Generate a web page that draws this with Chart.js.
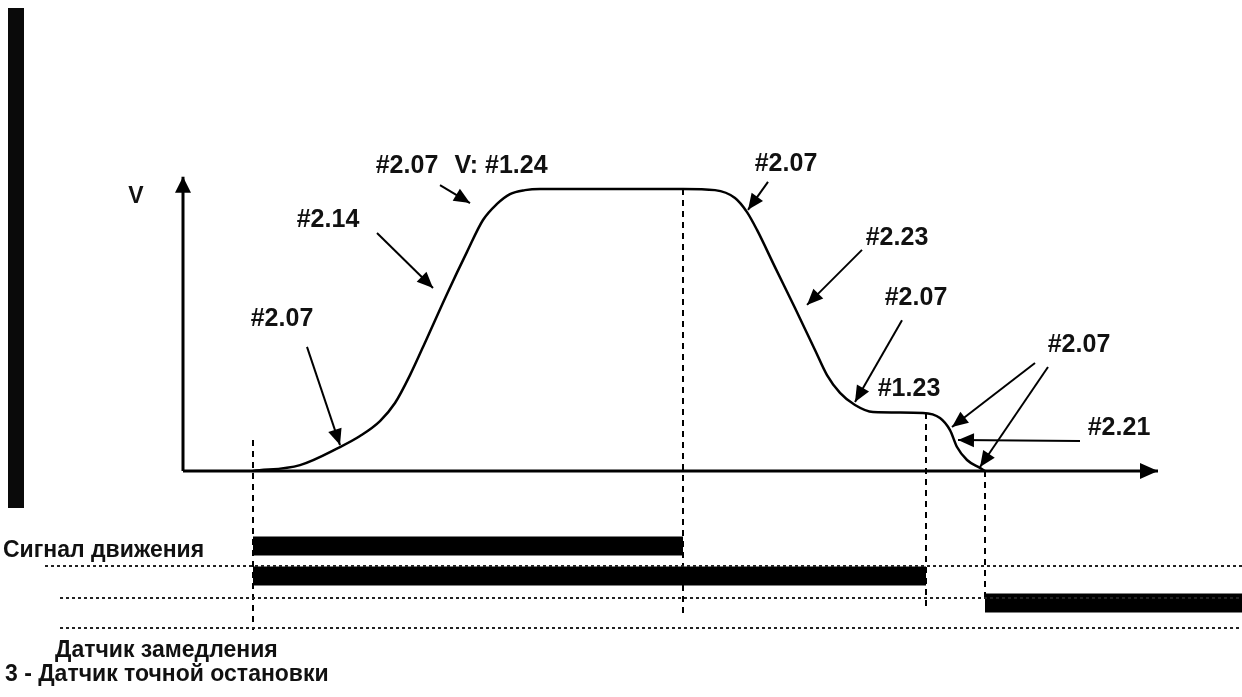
<!DOCTYPE html>
<html lang="ru">
<head>
<meta charset="utf-8">
<title>Диаграмма скорости</title>
<script src="https://cdn.jsdelivr.net/npm/chart.js@4.4.1/dist/chart.umd.min.js"></script>
<style>
  html, body { margin:0; padding:0; background:#fff; }
  #wrap { position:relative; width:1242px; height:697px; overflow:hidden; }
  #scanEdge { position:absolute; left:8px; top:8px; width:16px; height:500px; background:#0a0a0a; }
</style>
</head>
<body>
<div id="wrap">
  <canvas id="speedChart" width="1242" height="697"></canvas>
  <div id="scanEdge"></div>
</div>
<script>
// ============================================
//  Speed profile data (t = time units, v = % of #1.24)
// ============================================
const curveT = [7.0, 11.7, 15.7, 17.7, 19.7, 21.2, 22.7, 24.4, 26.4, 28.4, 30.0, 31.4, 32.7, 34.2, 35.7, 50.0,
                53.2, 55.2, 56.4, 57.4, 59.2, 61.2, 63.2, 64.4, 65.7, 67.2, 69.0, 74.0, 75.7, 76.7, 77.4, 78.4, 79.7, 80.2];
const curveV = [0, 2.1, 8.5, 12.4, 17.7, 24.1, 34.0, 47.1, 62.8, 77.7, 89.0, 94.7, 98.2, 99.6, 100, 100,
                99.6, 96.8, 91.8, 85.5, 72.3, 57.8, 42.9, 34.0, 27.7, 23.4, 20.9, 20.6, 18.8, 14.5, 8.5, 3.9, 1.1, 0];

// axis extents
const axisTopV = 104.3;
const axisEndT = 97.5;

// vertical dashed markers
const markerT    = [7.0, 50.0, 74.3, 80.2];
const markerFrom = [11, 100, 20.6, 0];
const markerTo   = [-56.4, -51.4, -49.6, -45.7];

// signal bars
const signalStart = [7.0, 7.0, 80.2];
const signalEnd   = [50.0, 74.3, 105.9];
const signalLevel = [-26.6, -37.2, -46.8];

// dotted guide lines
const guideLevel = [-33.7, -45.0, -55.7];
const guideStart = [-13.8, -12.3, -12.3];
const guideEnd   = 105.9;

// signal legend rows
const rowTexts = ['Сигнал движения', 'Датчик замедления', '3 - Датчик точной остановки'];
const rowT = [-18.0, -12.8, -17.8];
const rowV = [-30.5, -66.0, -74.5];

// parameter labels
const noteTexts = ['V', '#2.07', '#2.14', '#2.07', 'V: #1.24', '#2.07', '#2.23', '#2.07', '#1.23', '#2.07', '#2.21'];
const noteT = [-4.7, 9.9, 14.5, 22.4, 31.8, 60.3, 71.4, 73.3, 72.6, 89.6, 93.6];
const noteV = [97.2, 53.9, 89.0, 108.2, 108.2, 108.9, 82.6, 61.3, 29.1, 44.7, 15.2];

// pointer arrows (from -> tip)
const arrowT0 = [12.4, 19.4, 25.7, 58.5, 67.9, 71.9, 85.2, 86.5, 89.7];
const arrowV0 = [44.0, 84.4, 101.4, 102.5, 78.4, 53.5, 38.3, 36.9, 10.6];
const arrowT1 = [15.7, 25.0, 28.7, 56.5, 62.4, 67.2, 76.9, 79.7, 77.5];
const arrowV1 = [9.2, 64.9, 95.0, 92.6, 58.9, 24.5, 15.6, 1.4, 11.0];

const FONT = '"Liberation Sans", Arial, sans-serif';

function lineDs(points, width, extra) {
  return Object.assign({
    data: points, borderColor: '#000', backgroundColor: '#000', borderWidth: width,
    pointRadius: 0, showLine: true, fill: false, tension: 0, borderCapStyle: 'butt'
  }, extra || {});
}

function buildDatasets() {
  const ds = [];
  guideLevel.forEach((v, i) => {
    ds.push(lineDs([{ x: guideStart[i], y: v }, { x: guideEnd, y: v }], 2, { borderDash: [3, 3], borderColor: '#222' }));
  });
  signalLevel.forEach((v, i) => {
    ds.push(lineDs([{ x: signalStart[i], y: v }, { x: signalEnd[i], y: v }], 19));
  });
  markerT.forEach((t, i) => {
    ds.push(lineDs([{ x: t, y: markerFrom[i] }, { x: t, y: markerTo[i] }], 2, { borderDash: [6, 5] }));
  });
  // axes
  ds.push(lineDs([{ x: 0, y: 0 }, { x: 0, y: axisTopV }], 3, { arrowHead: { len: 16, half: 8 } }));
  ds.push(lineDs([{ x: 0, y: 0 }, { x: axisEndT, y: 0 }], 3, { arrowHead: { len: 18, half: 8 } }));
  // speed curve
  ds.push(lineDs(curveT.map((t, i) => ({ x: t, y: curveV[i] })), 2.5, { cubicInterpolationMode: 'monotone', borderCapStyle: 'round' }));
  // pointer arrows
  arrowT0.forEach((t, i) => {
    ds.push(lineDs([{ x: t, y: arrowV0[i] }, { x: arrowT1[i], y: arrowV1[i] }], 2, { arrowHead: { len: 16, half: 7 } }));
  });
  return ds;
}

const decorPlugin = {
  id: 'decor',
  afterDatasetsDraw(chart) {
    const { ctx, scales: { x, y } } = chart;
    ctx.save();
    ctx.fillStyle = '#000';
    chart.data.datasets.forEach(ds => {
      if (!ds.arrowHead) return;
      const a = ds.data[ds.data.length - 2], b = ds.data[ds.data.length - 1];
      const x0 = x.getPixelForValue(a.x), y0 = y.getPixelForValue(a.y);
      const x1 = x.getPixelForValue(b.x), y1 = y.getPixelForValue(b.y);
      const ang = Math.atan2(y1 - y0, x1 - x0);
      const { len, half } = ds.arrowHead;
      const bx = x1 - len * Math.cos(ang), by = y1 - len * Math.sin(ang);
      ctx.beginPath();
      ctx.moveTo(x1, y1);
      ctx.lineTo(bx + half * Math.sin(ang), by - half * Math.cos(ang));
      ctx.lineTo(bx - half * Math.sin(ang), by + half * Math.cos(ang));
      ctx.closePath();
      ctx.fill();
    });

    ctx.fillStyle = '#111';
    ctx.textAlign = 'center';
    ctx.textBaseline = 'middle';
    noteTexts.forEach((txt, i) => {
      ctx.font = (txt === 'V' ? 'bold 23px ' : 'bold 25px ') + FONT;
      ctx.fillText(txt, x.getPixelForValue(noteT[i]), y.getPixelForValue(noteV[i]));
    });

    ctx.textAlign = 'left';
    ctx.textBaseline = 'alphabetic';
    ctx.font = 'bold 23px ' + FONT;
    rowTexts.forEach((txt, i) => {
      ctx.fillText(txt, x.getPixelForValue(rowT[i]), y.getPixelForValue(rowV[i]));
    });
    ctx.restore();
  }
};

new Chart(document.getElementById('speedChart'), {
  type: 'scatter',
  data: { datasets: buildDatasets() },
  options: {
    responsive: false,
    animation: false,
    events: [],
    layout: { padding: 0 },
    plugins: { legend: { display: false }, tooltip: { enabled: false } },
    scales: {
      x: { type: 'linear', min: -18.3, max: 105.9, display: false },
      y: { type: 'linear', min: -80.14, max: 167.02, display: false }
    }
  },
  plugins: [decorPlugin]
});
</script>
</body>
</html>
